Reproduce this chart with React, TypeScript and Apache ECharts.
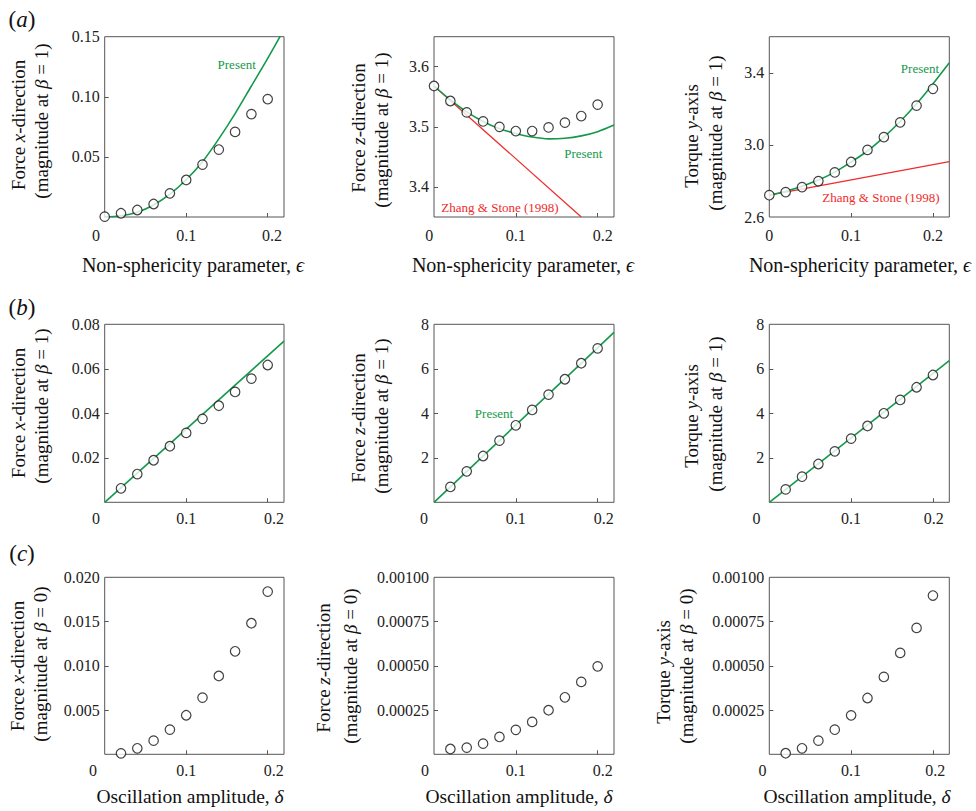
import React, { useEffect, useRef } from 'react';
import * as echarts from 'echarts';

// ---------------- data ----------------
const EPS = [0, 0.02, 0.04, 0.06, 0.08, 0.1, 0.12, 0.14, 0.16, 0.18, 0.2];
const DELTA = [0.02, 0.04, 0.06, 0.08, 0.1, 0.12, 0.14, 0.16, 0.18, 0.2];
const CURVE_EPS = [0, 0.02, 0.04, 0.06, 0.08, 0.1, 0.12, 0.14, 0.16, 0.18, 0.2, 0.22];

// (a) symbols (numerical results)
const A_FX_PTS = [0.0003, 0.0031, 0.0058, 0.0108, 0.0197, 0.0308, 0.0436, 0.0561, 0.0708, 0.0856, 0.0981];
const A_FZ_PTS = [3.568, 3.543, 3.524, 3.509, 3.5, 3.493, 3.493, 3.499, 3.507, 3.518, 3.537];
const A_TY_PTS = [2.721, 2.738, 2.766, 2.799, 2.847, 2.905, 2.972, 3.043, 3.125, 3.218, 3.311];

// (a) "Present" curves
const A_FX_CURVE = [0, 0.001, 0.004, 0.01, 0.019, 0.031, 0.046, 0.065, 0.086, 0.109, 0.132, 0.156];
const A_FZ_CURVE = [3.568, 3.545, 3.525, 3.509, 3.497, 3.489, 3.483, 3.48, 3.481, 3.485, 3.492, 3.503];
const A_TY_CURVE = [2.721, 2.743, 2.771, 2.805, 2.849, 2.905, 2.966, 3.043, 3.13, 3.228, 3.338, 3.455];

// (a) Zhang & Stone (1998)
const ZS_FZ_EPS = [0, 0.18];
const ZS_FZ = [3.568, 3.35];
const ZS_TY_EPS = [0, 0.22];
const ZS_TY = [2.721, 2.907];

// (b) symbols
const B_FX_PTS = [0.0063, 0.0127, 0.0189, 0.0252, 0.0312, 0.0375, 0.0434, 0.0496, 0.0556, 0.0617];
const B_FZ_PTS = [0.69, 1.39, 2.08, 2.77, 3.46, 4.15, 4.84, 5.53, 6.25, 6.92];
const B_TY_PTS = [0.58, 1.15, 1.72, 2.29, 2.86, 3.43, 4.0, 4.6, 5.17, 5.72];

// (b) "Present" lines
const B_LINE_X = [0, 0.22];
const B_FX_LINE = [0, 0.0724];
const B_FZ_LINE = [0, 7.64];
const B_TY_LINE = [0, 6.37];

// (c) symbols
const C_FX_PTS = [0.00011, 0.00068, 0.00154, 0.00279, 0.00441, 0.00641, 0.00885, 0.01164, 0.01481, 0.01839];
const C_FZ_PTS = [0.00003, 0.000038, 0.00006, 0.000098, 0.000138, 0.000183, 0.000249, 0.000322, 0.000409, 0.000497];
const C_TY_PTS = [0.000006, 0.000034, 0.000077, 0.000139, 0.00022, 0.000318, 0.000437, 0.000573, 0.000714, 0.000897];

// tick labels
const X_TICKS = [0, 0.1, 0.2];
const Y_A_FX = [0.05, 0.1, 0.15];
const Y_A_FZ = [3.4, 3.5, 3.6];
const Y_A_TY = [2.6, 3.0, 3.4];
const Y_B_FX = [0.02, 0.04, 0.06, 0.08];
const Y_B_8 = [2, 4, 6, 8];
const Y_C_FX = [0.005, 0.01, 0.015, 0.02];
const Y_C_1E3 = [0.00025, 0.0005, 0.00075, 0.001];

// ---------------- style ----------------
const FONT = "'Liberation Serif', 'Times New Roman', serif";
const GREEN = '#13994b';
const RED = '#ee2b2b';
const FRAME = '#555';
const TXT = '#222';

const zip = (xs: number[], ys: number[]) => xs.map((x, i) => [x, ys[i]]);

const COL_L = [104.7, 434, 769.3];
const COL_W = [179.3, 180, 180];
const ROW_T = [36.7, 324.3, 577.3];
const ROW_H = [180.3, 178, 177];

type PanelDef = {
  row: number; col: number;
  yMin: number; yMax: number; yLabels: number[]; yTicks: number[]; digits: number;
  zeroShift: number; twoShift: number;
};

const PANELS: PanelDef[] = [
  { row: 0, col: 0, yMin: 0, yMax: 0.15, yLabels: Y_A_FX, yTicks: [0.05, 0.1], digits: 2, zeroShift: 8.7, twoShift: 4.4 },
  { row: 0, col: 1, yMin: 3.35, yMax: 3.65, yLabels: Y_A_FZ, yTicks: Y_A_FZ, digits: 1, zeroShift: 4.7, twoShift: 5 },
  { row: 0, col: 2, yMin: 2.6, yMax: 3.6, yLabels: Y_A_TY, yTicks: [3.0, 3.4], digits: 1, zeroShift: 0, twoShift: 0 },
  { row: 1, col: 0, yMin: 0, yMax: 0.08, yLabels: Y_B_FX, yTicks: [0.02, 0.04, 0.06], digits: 2, zeroShift: 8.7, twoShift: 6.3 },
  { row: 1, col: 1, yMin: 0, yMax: 8, yLabels: Y_B_8, yTicks: [2, 4, 6], digits: 0, zeroShift: 10, twoShift: 6 },
  { row: 1, col: 2, yMin: 0, yMax: 8, yLabels: Y_B_8, yTicks: [2, 4, 6], digits: 0, zeroShift: 12.7, twoShift: 0.7 },
  { row: 2, col: 0, yMin: 0, yMax: 0.02, yLabels: Y_C_FX, yTicks: [0.005, 0.01, 0.015], digits: 3, zeroShift: 11.7, twoShift: 6 },
  { row: 2, col: 1, yMin: 0, yMax: 0.001, yLabels: Y_C_1E3, yTicks: [0.00025, 0.0005, 0.00075], digits: 5, zeroShift: 9, twoShift: 5 },
  { row: 2, col: 2, yMin: 0, yMax: 0.001, yLabels: Y_C_1E3, yTicks: [0.00025, 0.0005, 0.00075], digits: 5, zeroShift: 6.7, twoShift: 2.3 },
];

const Y_TITLES: [string, string][] = [
  ['Force {i|x}-direction', '(magnitude at {i|β} = 1)'],
  ['Force {i|z}-direction', '(magnitude at {i|β} = 1)'],
  ['Torque {i|y}-axis', '(magnitude at {i|β} = 1)'],
  ['Force {i|x}-direction', '(magnitude at {i|β} = 1)'],
  ['Force {i|z}-direction', '(magnitude at {i|β} = 1)'],
  ['Torque {i|y}-axis', '(magnitude at {i|β} = 1)'],
  ['Force {i|x}-direction', '(magnitude at {i|β} = 0)'],
  ['Force {i|z}-direction', '(magnitude at {i|β} = 0)'],
  ['Torque {i|y}-axis', '(magnitude at {i|β} = 0)'],
];
// [x1, y1, x2, y2] centers of the two rotated title lines
const Y_TITLE_POS = [
  [18.3, 125, 41.7, 121],
  [358.3, 128, 381.7, 130],
  [691.7, 136, 715, 133],
  [18.3, 413, 41.7, 406],
  [358.3, 418, 381.7, 416],
  [691.7, 416, 715, 414],
  [17, 666, 40, 664],
  [323, 668, 350, 666],
  [663.3, 672, 686.7, 666],
];

const richItalic = (size: number, color: string) => ({
  i: { fontStyle: 'italic', fontFamily: FONT, fontSize: size, fill: color, color },
  n: { fontFamily: FONT, fontSize: size, fill: color, color },
});

function text(x: number, y: number, t: string, size: number, color: string, rotation = 0) {
  return {
    type: 'text',
    x, y, rotation,
    z: 100,
    style: {
      text: t,
      rich: richItalic(size, color),
      fontFamily: FONT,
      fontSize: size,
      fill: color,
      textAlign: 'center', textVerticalAlign: 'middle',
      align: 'center', verticalAlign: 'middle',
    },
  };
}

function buildOption() {
  const grid: any[] = [];
  const xAxis: any[] = [];
  const yAxis: any[] = [];
  PANELS.forEach((p, i) => {
    grid.push({
      left: COL_L[p.col], top: ROW_T[p.row], width: COL_W[p.col], height: ROW_H[p.row],
      show: true, borderColor: FRAME, borderWidth: 1, backgroundColor: 'transparent',
      containLabel: false, outerBoundsMode: 'none',
    });
    const lblBase = { fontFamily: FONT, fontSize: 16, color: TXT };
    xAxis.push({
      type: 'value', gridIndex: i, min: 0, max: 0.22,
      axisLine: { show: false },
      splitLine: { show: false },
      axisTick: { show: true, inside: true, length: 4, lineStyle: { color: FRAME }, customValues: [0.1, 0.2] },
      axisLabel: {
        ...lblBase,
        margin: p.row === 0 ? 10 : 8,
        customValues: X_TICKS,
        formatter: (v: number) => {
          if (Math.abs(v) < 1e-9) return '{z|0}';
          if (Math.abs(v - 0.2) < 1e-9) return '{t|0.2}';
          return '{n|0.1}';
        },
        rich: {
          z: { ...lblBase, padding: [0, 2 * p.zeroShift, 0, 0] },
          t: { ...lblBase, padding: [0, 0, 0, 2 * p.twoShift] },
          n: { ...lblBase },
        },
      },
    });
    yAxis.push({
      type: 'value', gridIndex: i, min: p.yMin, max: p.yMax,
      axisLine: { show: false },
      splitLine: { show: false },
      axisTick: { show: true, inside: true, length: 4, lineStyle: { color: FRAME }, customValues: p.yTicks },
      axisLabel: {
        ...lblBase,
        margin: 5,
        customValues: p.yLabels,
        formatter: (v: number) => v.toFixed(p.digits),
      },
    });
  });

  const scatter = (idx: number, xs: number[], ys: number[]) => ({
    type: 'scatter', xAxisIndex: idx, yAxisIndex: idx, z: 5,
    data: zip(xs, ys), symbol: 'circle', symbolSize: 9.5,
    itemStyle: { color: '#fff', borderColor: '#111', borderWidth: 1.2 },
    emphasis: { disabled: true }, silent: true,
  });
  const line = (idx: number, xs: number[], ys: number[], color: string, width: number, smooth: boolean) => ({
    type: 'line', xAxisIndex: idx, yAxisIndex: idx, z: 3,
    data: zip(xs, ys), showSymbol: false, symbol: 'none', smooth: smooth ? 0.3 : false,
    lineStyle: { color, width }, clip: true, silent: true,
  });

  const series = [
    line(0, CURVE_EPS, A_FX_CURVE, GREEN, 1.6, true),
    scatter(0, EPS, A_FX_PTS),
    line(1, ZS_FZ_EPS, ZS_FZ, RED, 1.2, false),
    line(1, CURVE_EPS, A_FZ_CURVE, GREEN, 1.6, true),
    scatter(1, EPS, A_FZ_PTS),
    line(2, ZS_TY_EPS, ZS_TY, RED, 1.2, false),
    line(2, CURVE_EPS, A_TY_CURVE, GREEN, 1.6, true),
    scatter(2, EPS, A_TY_PTS),
    line(3, B_LINE_X, B_FX_LINE, GREEN, 1.6, false),
    scatter(3, DELTA, B_FX_PTS),
    line(4, B_LINE_X, B_FZ_LINE, GREEN, 1.6, false),
    scatter(4, DELTA, B_FZ_PTS),
    line(5, B_LINE_X, B_TY_LINE, GREEN, 1.6, false),
    scatter(5, DELTA, B_TY_PTS),
    scatter(6, DELTA, C_FX_PTS),
    scatter(7, DELTA, C_FZ_PTS),
    scatter(8, DELTA, C_TY_PTS),
  ];

  const graphic: any[] = [];
  // panel letters
  graphic.push(text(22, 19, '({i|a})', 23, '#111'));
  graphic.push(text(22, 307, '({i|b})', 23, '#111'));
  graphic.push(text(22, 553, '({i|c})', 23, '#111'));
  // y titles
  Y_TITLES.forEach((t, i) => {
    const pos = Y_TITLE_POS[i];
    graphic.push(text(pos[0], pos[1], t[0], 19, '#111', Math.PI / 2));
    graphic.push(text(pos[2], pos[3], t[1], 19, '#111', Math.PI / 2));
  });
  // x titles
  const xTitleA = 'Non-sphericity parameter, {i|ϵ}';
  const xTitleC = 'Oscillation amplitude, {i|δ}';
  graphic.push(text(193, 265, xTitleA, 20, '#111'));
  graphic.push(text(523, 265, xTitleA, 20, '#111'));
  graphic.push(text(860, 265, xTitleA, 20, '#111'));
  graphic.push(text(190, 796, xTitleC, 19.5, '#111'));
  graphic.push(text(519, 796, xTitleC, 19.5, '#111'));
  graphic.push(text(857, 796, xTitleC, 19.5, '#111'));
  // curve labels
  graphic.push(text(236.7, 64.5, 'Present', 13, GREEN));
  graphic.push(text(583.3, 153, 'Present', 13, GREEN));
  graphic.push(text(920, 68, 'Present', 13, GREEN));
  graphic.push(text(494, 413.3, 'Present', 13, GREEN));
  graphic.push(text(500, 207, 'Zhang & Stone (1998)', 13, RED));
  graphic.push(text(881, 197.7, 'Zhang & Stone (1998)', 13, RED));

  return {
    animation: false,
    backgroundColor: '#fff',
    textStyle: { fontFamily: FONT },
    grid, xAxis, yAxis, series, graphic,
  };
}

export default function App() {
  const ref = useRef<HTMLDivElement>(null);
  useEffect(() => {
    document.body.style.margin = '0';
    if (!ref.current) return;
    const chart = echarts.init(ref.current, undefined, { renderer: 'svg' });
    chart.setOption(buildOption() as any);
    return () => chart.dispose();
  }, []);
  return <div ref={ref} style={{ width: 976, height: 811 }} />;
}
